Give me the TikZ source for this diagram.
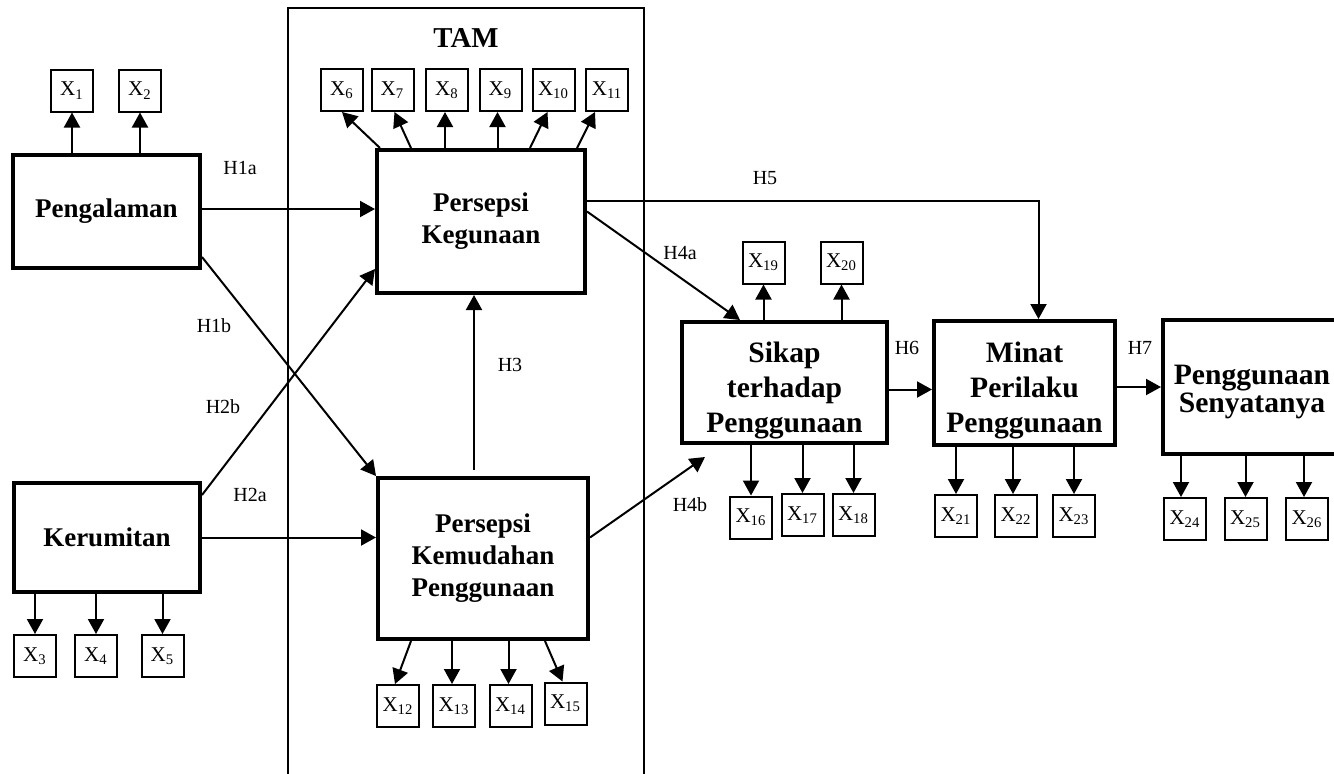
\documentclass[tikz,border=0pt]{standalone}
\usepackage{fontspec}
\setmainfont{Liberation Serif}
\usetikzlibrary{arrows.meta,calc}
\begin{document}
\begin{tikzpicture}[x=0.5pt,y=-0.5pt,
  construct/.style={draw,line width=2pt,align=center,inner sep=0pt,
    font=\fontsize{13.5}{16}\selectfont\bfseries},
  constructL/.style={construct,font=\fontsize{14.8}{17.5}\selectfont\bfseries},
  caption/.style={align=center,inner sep=0pt,
    font=\fontsize{14.8}{17.5}\selectfont\bfseries},
  indicator/.style={draw,line width=1pt,minimum width=21pt,minimum height=21pt,
    inner sep=0pt,font=\fontsize{10.5}{12}\selectfont},
  hyp/.style={font=\fontsize{10}{12}\selectfont,inner sep=0pt},
  arr/.style={line width=1pt,-{Triangle[length=7.5pt,width=8pt]}},
  frame/.style={draw,line width=1.4pt,inner sep=0pt}]
\clip (0,0) rectangle (1334,773);
\fill[white] (0,0) rectangle (1334,773);

% TAM frame
\node[frame,minimum width=178pt,minimum height=391pt] (tam) at (466,399) {};
\node[font=\fontsize{14.4}{17}\selectfont\bfseries,inner sep=0pt] (tamlabel) at (466,38) {TAM};

% constructs
\node[construct,minimum width=93.5pt,minimum height=56.5pt] (peng) at (106.5,211.5) {Pengalaman};
\node[construct,minimum width=93pt,minimum height=54.5pt] (kerum) at (107,537.5) {Kerumitan};
\node[construct,minimum width=104pt,minimum height=71.5pt] (pk) at (481,221.5) {Persepsi\\Kegunaan};
\node[construct,minimum width=105pt,minimum height=80.5pt] (pkp) at (483,558.5) {Persepsi\\Kemudahan\\Penggunaan};
\node[constructL,minimum width=102.5pt,minimum height=60.5pt] (sikap) at (784.5,382.5) {};
\node[caption] (sikaptext) at ($(sikap.center)+(0,7.5)$) {Sikap\\terhadap\\Penggunaan};
\node[constructL,minimum width=90.5pt,minimum height=62pt] (minat) at (1024.5,383) {};
\node[caption] (minattext) at ($(minat.center)+(0,7.5)$) {Minat\\Perilaku\\Penggunaan};
\node[constructL,minimum width=89pt,minimum height=67pt] (pakai) at (1252,387) {};
\node[caption,font=\fontsize{14.8}{14}\selectfont\bfseries] (pakaitext)
  at ($(pakai.center)+(0,5)$) {Penggunaan\\Senyatanya};

% indicators
\node[indicator] (X1) at (72,90.5) {X\textsubscript{1}};
\node[indicator] (X2) at (140,90.5) {X\textsubscript{2}};
\node[indicator] (X3) at (35,656) {X\textsubscript{3}};
\node[indicator] (X4) at (96,656) {X\textsubscript{4}};
\node[indicator] (X5) at (162.5,656) {X\textsubscript{5}};
\node[indicator] (X6) at (342,90) {X\textsubscript{6}};
\node[indicator] (X7) at (392.5,90) {X\textsubscript{7}};
\node[indicator] (X8) at (447,90) {X\textsubscript{8}};
\node[indicator] (X9) at (500.5,90) {X\textsubscript{9}};
\node[indicator] (X10) at (553.5,90) {X\textsubscript{10}};
\node[indicator] (X11) at (607,90) {X\textsubscript{11}};
\node[indicator] (X12) at (398,706) {X\textsubscript{12}};
\node[indicator] (X13) at (454,706) {X\textsubscript{13}};
\node[indicator] (X14) at (510.5,706) {X\textsubscript{14}};
\node[indicator] (X15) at (565.5,703.5) {X\textsubscript{15}};
\node[indicator] (X16) at (751,517.5) {X\textsubscript{16}};
\node[indicator] (X17) at (802.5,515) {X\textsubscript{17}};
\node[indicator] (X18) at (853.5,515) {X\textsubscript{18}};
\node[indicator] (X19) at (763.5,262.5) {X\textsubscript{19}};
\node[indicator] (X20) at (841.5,262.5) {X\textsubscript{20}};
\node[indicator] (X21) at (956,516) {X\textsubscript{21}};
\node[indicator] (X22) at (1016,516) {X\textsubscript{22}};
\node[indicator] (X23) at (1074,516) {X\textsubscript{23}};
\node[indicator] (X24) at (1185,519) {X\textsubscript{24}};
\node[indicator] (X25) at (1245.5,519) {X\textsubscript{25}};
\node[indicator] (X26) at (1307,519) {X\textsubscript{26}};

% arrow ends slightly off the indicator centres
\coordinate (c8) at ($(X8.south)+(-2,0)$);
\coordinate (c9) at ($(X9.south)+(-3,0)$);
\coordinate (c13) at ($(X13.north)+(-2,0)$);
\coordinate (c14) at ($(X14.north)+(-2,0)$);
\coordinate (c22) at ($(X22.north)+(-3,0)$);
\coordinate (c24) at ($(X24.north)+(-4,0)$);
\coordinate (c26) at ($(X26.north)+(-3,0)$);

% indicator arrows
\draw[arr] (X1 |- peng.north) -- (X1.south);
\draw[arr] (X2 |- peng.north) -- (X2.south);
\draw[arr] (X3 |- kerum.south) -- (X3.north);
\draw[arr] (X4 |- kerum.south) -- (X4.north);
\draw[arr] (X5 |- kerum.south) -- (X5.north);

\draw[arr] ($(pk.north west)+(5,0)$) -- (X6.south);
\draw[arr] ($(pk.north west)+(36,0)$) -- ($(X7.south)+(2,0)$);
\draw[arr] (c8 |- pk.north) -- (c8);
\draw[arr] (c9 |- pk.north) -- (c9);
\draw[arr] ($(pk.north west)+(155,0)$) -- ($(X10.south)+(-6,0)$);
\draw[arr] ($(pk.north west)+(202,0)$) -- ($(X11.south)+(-12,0)$);

\draw[arr] ($(pkp.south west)+(35,0)$) -- ($(X12.north)+(-3,0)$);
\draw[arr] (c13 |- pkp.south) -- (c13);
\draw[arr] (c14 |- pkp.south) -- (c14);
\draw[arr] ($(pkp.south west)+(169,0)$) -- ($(X15.north)+(-3,0)$);

\draw[arr] (X19 |- sikap.north) -- (X19.south);
\draw[arr] (X20 |- sikap.north) -- (X20.south);
\draw[arr] (X16 |- sikap.south) -- (X16.north);
\draw[arr] (X17 |- sikap.south) -- (X17.north);
\draw[arr] (X18 |- sikap.south) -- (X18.north);
\draw[arr] (X21 |- minat.south) -- (X21.north);
\draw[arr] (c22 |- minat.south) -- (c22);
\draw[arr] (X23 |- minat.south) -- (X23.north);
\draw[arr] (c24 |- pakai.south) -- (c24);
\draw[arr] (X25 |- pakai.south) -- (X25.north);
\draw[arr] (c26 |- pakai.south) -- (c26);

% structural paths
\draw[arr] ($(peng.east)+(0,-2.5)$) coordinate (h1a) -- (h1a -| pk.west);
\draw[arr] ($(peng.south east)+(0,-13)$) -- (pkp.north west);
\draw[arr] ($(kerum.north east)+(0,14)$) -- ($(pk.south west)+(0,-26)$);
\draw[arr] (kerum.east) -- (kerum.east -| pkp.west);
\draw[arr] ($(pkp.north)+(-9,-6)$) coordinate (h3) -- (h3 |- pk.south);
\draw[arr] ($(pk.east)+(0,-10)$) -- ($(sikap.north west)+(60,0)$);
\draw[arr] ($(pk.east)+(0,-21)$) -| ($(minat.north)+(14,0)$);
\draw[arr] ($(pkp.east)+(0,-21)$) -- ($(sikap.south west)+(25,12)$);
\draw[arr] ($(sikap.east)+(0,7)$) coordinate (h6) -- (h6 -| minat.west);
\draw[arr] ($(minat.east)+(0,4)$) coordinate (h7) -- (h7 -| pakai.west);

% path labels
\node[hyp] (lH1a) at (240,168) {H1a};
\node[hyp] (lH1b) at (214,326) {H1b};
\node[hyp] (lH2b) at (223,407) {H2b};
\node[hyp] (lH2a) at (250,495) {H2a};
\node[hyp] (lH3) at (510,365) {H3};
\node[hyp] (lH4a) at (680,253) {H4a};
\node[hyp] (lH5) at (765,178) {H5};
\node[hyp] (lH4b) at (690,505) {H4b};
\node[hyp] (lH6) at (907,348) {H6};
\node[hyp] (lH7) at (1140,348) {H7};
\end{tikzpicture}
\end{document}
